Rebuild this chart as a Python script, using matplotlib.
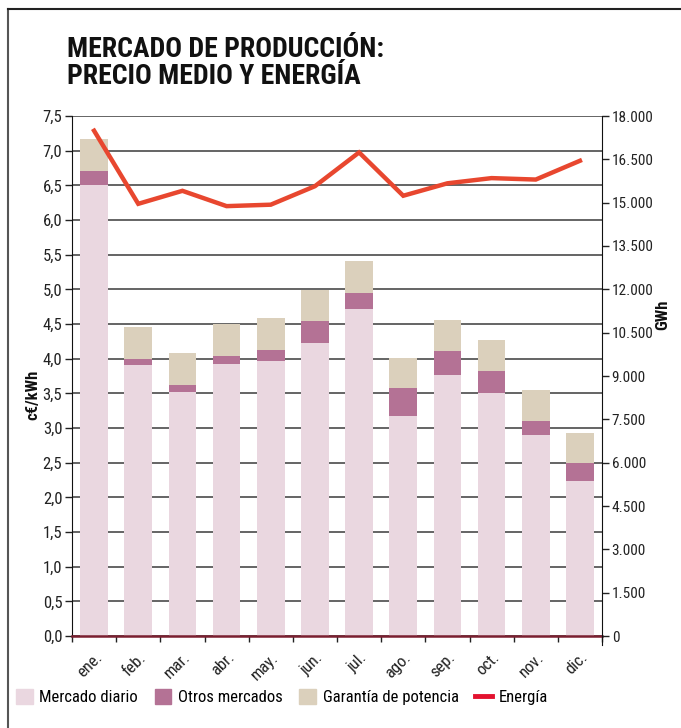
import matplotlib
matplotlib.use("Agg")
import matplotlib.pyplot as plt
from matplotlib.lines import Line2D
from matplotlib.patches import Patch
from matplotlib.ticker import FuncFormatter, FixedLocator
import numpy as np

plt.rcParams['font.family'] = ['Roboto Condensed', 'DejaVu Sans']

meses = ["ene.", "feb.", "mar.", "abr.", "may.", "jun.",
         "jul.", "ago.", "sep.", "oct.", "nov.", "dic."]

# precio medio (c€/kWh) por componente
mercado_diario = [6.50, 3.91, 3.52, 3.92, 3.97, 4.22, 4.72, 3.18, 3.76, 3.51, 2.90, 2.23]
otros_mercados = [0.21, 0.09, 0.10, 0.12, 0.16, 0.32, 0.23, 0.40, 0.35, 0.31, 0.20, 0.26]
garantia_potencia = [0.46, 0.46, 0.46, 0.46, 0.46, 0.45, 0.46, 0.43, 0.45, 0.45, 0.45, 0.44]

# energía (GWh)
energia = [17490, 14960, 15410, 14880, 14930, 15570, 16740, 15240, 15670, 15850, 15800, 16450]

c_diario = '#ead7e0'
c_otros = '#b47295'
c_garantia = '#dbd0bc'
c_energia = '#e8472f'

fig = plt.figure(figsize=(6.81, 7.28), dpi=100)
ax = fig.add_axes([72 / 681, 1 - 636 / 728, 530 / 681, 520 / 728])

x = np.arange(len(meses))
w = 0.63
d = np.array(mercado_diario)
o = np.array(otros_mercados)
g = np.array(garantia_potencia)
ax.bar(x, d, w, color=c_diario, zorder=2)
ax.bar(x, o, w, bottom=d, color=c_otros, zorder=2)
ax.bar(x, g, w, bottom=d + o, color=c_garantia, zorder=2)

ax.set_xlim(-0.5, len(meses) - 0.5)
ax.set_ylim(0, 7.5)
ax.set_yticks(np.arange(0, 7.51, 0.5))
ax.yaxis.set_major_formatter(FuncFormatter(lambda v, p: f"{v:.1f}".replace('.', ',')))
ax.grid(axis='y', color='#3a3a3a', lw=1.1, zorder=0)
ax.set_axisbelow(True)

ax.set_xticks(x)
ax.set_xticklabels(meses, rotation=45, ha='right', rotation_mode='anchor', fontsize=12, color='#222222')
ax.tick_params(axis='x', which='major', length=0, pad=10)
ax.xaxis.set_minor_locator(FixedLocator(np.arange(-0.5, len(meses), 1.0)))
ax.tick_params(axis='x', which='minor', length=4, width=1, color='#222222')
ax.tick_params(axis='y', length=5, width=1, labelsize=12, colors='#222222', pad=2)

for s in ['top', 'right']:
    ax.spines[s].set_visible(False)
ax.spines['left'].set_color('#111111')
ax.spines['bottom'].set_color('#7a1f30')
ax.spines['bottom'].set_linewidth(1.8)
ax.spines['bottom'].set_zorder(5)

ax2 = ax.twinx()
ax2.plot(x, energia, color=c_energia, lw=3.2, solid_joinstyle='miter', zorder=3)
ax2.set_ylim(0, 18000)
ax2.set_yticks(np.arange(0, 18001, 1500))
ax2.yaxis.set_major_formatter(FuncFormatter(lambda v, p: f"{int(v):,}".replace(',', '.')))
ax2.tick_params(axis='y', length=5, width=1, labelsize=11, colors='#222222', pad=2)
for s in ['top', 'left', 'bottom']:
    ax2.spines[s].set_visible(False)
ax2.spines['right'].set_color('#111111')
ax2.spines['right'].set_bounds(-300, 18000)

# títulos de los ejes
fig.text(33 / 681, 1 - 395 / 728, "c€/kWh", rotation=90, ha='center', va='center',
         fontsize=12, fontweight='bold', color='#111111')
fig.text(663 / 681, 1 - 315 / 728, "GWh", rotation=90, ha='center', va='center',
         fontsize=12, fontweight='bold', color='#111111')

fig.text(67 / 681, 1 - 36 / 728, "MERCADO DE PRODUCCIÓN:\nPRECIO MEDIO Y ENERGÍA",
         ha='left', va='top', fontsize=20, fontweight='bold', linespacing=1.0, color='#111111')

# marco
fig.add_artist(Line2D([8 / 681, 8 / 681], [0, 1 - 9 / 728], transform=fig.transFigure, color='#555555', lw=1.5))
fig.add_artist(Line2D([8 / 681, 1], [1 - 9 / 728, 1 - 9 / 728], transform=fig.transFigure, color='#222222', lw=1.5))

handles = [Patch(color=c_diario), Patch(color=c_otros), Patch(color=c_garantia),
           Line2D([0], [0], color='#e3122f', lw=3.5)]
labels = ["Mercado diario", "Otros mercados", "Garantía de potencia", "Energía"]
fig.legend(handles, labels, loc='center', bbox_to_anchor=(282 / 681, 1 - 697 / 728), ncol=4,
           frameon=False, fontsize=12, handlelength=1.0, handleheight=1.0,
           handletextpad=0.4, columnspacing=1.0, borderaxespad=0)

fig.savefig("out.png", dpi=100)
